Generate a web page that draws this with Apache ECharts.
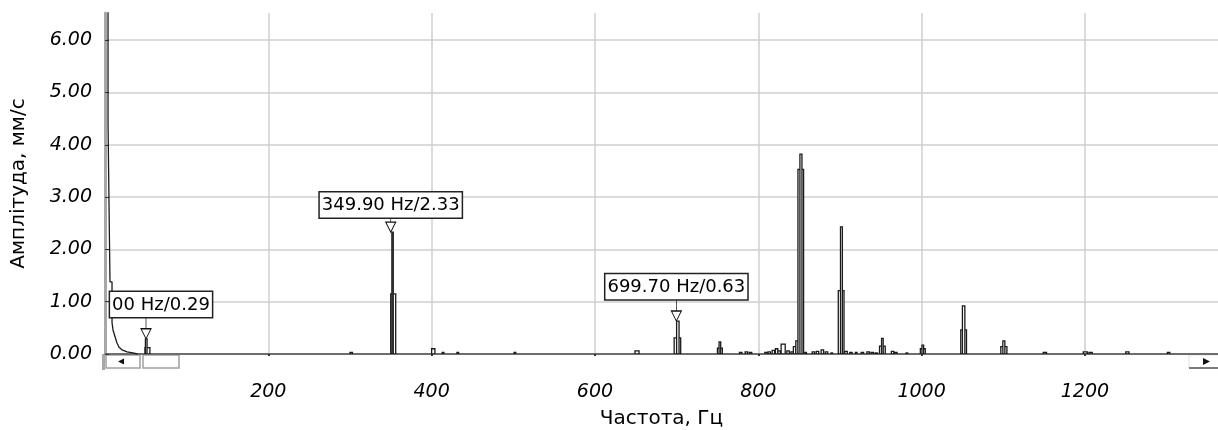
<!DOCTYPE html>
<html>
<head>
<meta charset="utf-8">
<title>Спектр</title>
<script src="https://cdn.jsdelivr.net/npm/echarts@6/dist/echarts.min.js"></script>
<style>
  html, body { margin: 0; padding: 0; background: #fff; }
  #chart { width: 1218px; height: 430px; }
</style>
</head>
<body>
<div id="chart"></div>
<script>
// Spectrum values: [startHz, endHz, amplitude]
const noiseBins = [
  [300, 303, 0.03], [400, 404, 0.10], [413, 415, 0.03], [431, 433, 0.03],
  [501, 503, 0.03], [649, 654, 0.06], [777, 780, 0.03], [784, 787, 0.04],
  [789, 792, 0.03], [808, 811, 0.03], [812, 815, 0.04], [817, 820, 0.07],
  [821, 824, 0.10], [824, 827, 0.06], [828, 833, 0.19], [835, 838, 0.06],
  [840, 843, 0.04], [843, 846, 0.14], [846, 849, 0.25], [857, 859, 0.03],
  [866, 869, 0.04], [871, 874, 0.05], [877, 880, 0.08], [882, 885, 0.04],
  [889, 891, 0.02], [906, 909, 0.05], [912, 915, 0.03], [919, 921, 0.03],
  [926, 929, 0.03], [933, 936, 0.04], [938, 941, 0.03], [943, 946, 0.02],
  [963, 966, 0.05], [967, 970, 0.03], [981, 983, 0.02], [1149, 1153, 0.03],
  [1198, 1203, 0.04], [1205, 1209, 0.03], [1250, 1254, 0.04], [1301, 1304, 0.03]
];
const peakBoxes = [
  [49, 55, 0.12], [349.9, 356, 1.15], [697, 705, 0.31], [750, 756, 0.11],
  [848.6, 855.5, 3.53], [898, 905, 1.21], [948.5, 955.5, 0.15],
  [998.5, 1004.5, 0.10], [1048, 1055, 0.46], [1097, 1104.5, 0.14]
];
const peakSpikes = [
  [49.5, 51.5, 0.29], [351.3, 353, 2.33], [700, 703, 0.63], [752, 754, 0.23],
  [851, 853.5, 3.82], [900.7, 903, 2.43], [951, 953, 0.30],
  [1000.5, 1002.5, 0.17], [1050, 1053, 0.92], [1099.5, 1102, 0.25]
];
// low-frequency roll-off: [Hz, amplitude]
const lowFreqCurve = [
  [0, 10], [3.7, 10], [3.7, 4.42], [6.1, 4.42], [6.1, 1.38], [8.6, 1.38],
  [8.6, 0.6], [9.8, 0.46], [12.3, 0.33], [14.7, 0.21], [17.2, 0.13],
  [20.8, 0.08], [27, 0.04], [34, 0.02], [40, 0]
];

const markerFreqs = [50.2, 349.9, 699.7];
const markerAmps = [0.29, 2.33, 0.63];
const markerTexts = ['00 Hz/0.29', '349.90 Hz/2.33', '699.70 Hz/0.63'];
const markerOffsets = [[15, 0], [0, 7], [0, 0]];

const xMax = 1363;
const yMax = 6.52;
const FONT = 'DejaVu Sans, sans-serif';

const chart = echarts.init(document.getElementById('chart'));

function renderBin(params, api) {
  const p0 = api.coord([api.value(0), 0]);
  const p1 = api.coord([api.value(1), api.value(2)]);
  return {
    type: 'rect',
    shape: { x: p0[0], y: p1[1], width: p1[0] - p0[0], height: p0[1] - p1[1] },
    style: { fill: '#fff', stroke: '#1a1a1a', lineWidth: 1.3 }
  };
}

const option = {
  backgroundColor: '#fff',
  animation: false,
  grid: { left: 105, right: 0, top: 13, bottom: 76, outerBoundsMode: 'none' },
  xAxis: [
    {
      type: 'value', min: 0, max: xMax, interval: 200, offset: 16,
      name: 'Частота, Гц', nameLocation: 'middle', nameGap: 39,
      nameTextStyle: { fontFamily: FONT, fontSize: 20, color: '#000' },
      axisLine: { lineStyle: { color: '#dadada', width: 2 } },
      axisTick: { length: 2, lineStyle: { color: '#333', width: 2 } },
      axisLabel: {
        fontFamily: FONT, fontSize: 19, fontStyle: 'italic', color: '#000',
        margin: 13, showMinLabel: false, showMaxLabel: false,
        formatter: v => String(v)
      },
      splitLine: { show: true, showMaxLine: false, lineStyle: { color: '#cfcfcf', width: 1.5 } }
    },
    {
      type: 'value', min: 0, max: xMax, position: 'bottom', offset: 0,
      axisLine: { lineStyle: { color: '#4a4a4a', width: 1.5 } },
      axisTick: { show: false }, axisLabel: { show: false }, splitLine: { show: false }
    }
  ],
  yAxis: {
    type: 'value', min: 0, max: yMax, interval: 1,
    name: 'Амплітуда, мм/с', nameLocation: 'middle', nameGap: 76,
    nameTextStyle: { fontFamily: FONT, fontSize: 20, color: '#000' },
    axisLine: { show: true, lineStyle: { color: '#a8a8a8', width: 3 } },
    axisTick: { show: true, inside: true, length: 4, lineStyle: { color: '#333' } },
    axisLabel: {
      fontFamily: FONT, fontSize: 19, fontStyle: 'italic', color: '#000',
      margin: 13, showMaxLabel: false, formatter: v => v.toFixed(2)
    },
    splitLine: { show: true, showMinLine: false, showMaxLine: false, lineStyle: { color: '#cfcfcf', width: 1.5 } }
  },
  series: [
    {
      type: 'line', xAxisIndex: 0, data: lowFreqCurve, showSymbol: false,
      lineStyle: { color: '#1a1a1a', width: 1.3 }, clip: true, z: 3
    },
    {
      type: 'custom', xAxisIndex: 0, renderItem: renderBin, clip: true, z: 3,
      encode: { x: [0, 1], y: 2 },
      data: noiseBins.concat(peakBoxes, peakSpikes)
    },
    {
      type: 'scatter', xAxisIndex: 0, z: 5,
      symbol: 'path://M5,0 L5,11 M0,11 L10,11 L5,21 Z',
      symbolSize: [10, 21], symbolOffset: [0, '-50%'],
      itemStyle: { color: '#fff', borderColor: '#111', borderWidth: 1, opacity: 1 },
      data: markerFreqs.map((f, i) => ({
        value: [f, markerAmps[i]],
        label: { offset: markerOffsets[i] }
      })),
      label: {
        show: true, position: 'top', distance: 0,
        formatter: p => markerTexts[p.dataIndex],
        fontFamily: FONT, fontSize: 18, lineHeight: 20, color: '#000',
        backgroundColor: '#fff', borderColor: '#222', borderWidth: 1.5,
        padding: [3, 2, 2, 2]
      }
    }
  ],
  graphic: [
    // y axis continues through the scrollbar strip
    { type: 'line', shape: { x1: 103.5, y1: 354, x2: 103.5, y2: 370 }, style: { stroke: '#a8a8a8', lineWidth: 3 } },
    // left scroll button and thumb
    { type: 'rect', shape: { x: 106, y: 355, width: 34, height: 13 }, style: { fill: '#fff', stroke: '#a0a0a0', lineWidth: 1.5 } },
    { type: 'polygon', shape: { points: [[118, 361.5], [124, 358.5], [124, 364.5]] }, style: { fill: '#111' } },
    { type: 'rect', shape: { x: 143, y: 355, width: 36, height: 13 }, style: { fill: '#fff', stroke: '#a0a0a0', lineWidth: 1.5 } },
    // right scroll button
    { type: 'rect', shape: { x: 1189, y: 355, width: 30, height: 13 }, style: { fill: '#fff', stroke: '#e0e0e0', lineWidth: 1 } },
    { type: 'line', shape: { x1: 1189, y1: 368, x2: 1218, y2: 368 }, style: { stroke: '#555', lineWidth: 1.5 } },
    { type: 'polygon', shape: { points: [[1203, 358], [1210, 361.5], [1203, 365]] }, style: { fill: '#111' } }
  ]
};

chart.setOption(option);
</script>
</body>
</html>
